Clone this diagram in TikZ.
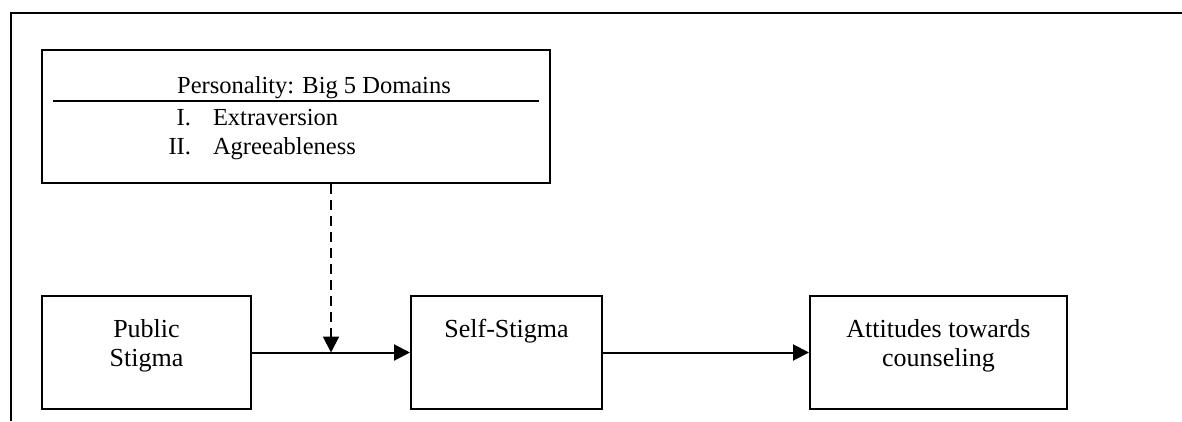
\documentclass[tikz,border=0pt]{standalone}
\usepackage{fontspec}
\setmainfont{Liberation Serif}
\usetikzlibrary{arrows.meta}
\begin{document}
\begin{tikzpicture}[x=1pt,y=-1pt,
  line width=2pt,
  box/.style={draw=black, line width=2pt, minimum width=#1, inner sep=0pt, minimum height=113pt},
  txt/.style={anchor=base, inner sep=0pt, font=\fontsize{24.5}{29}\selectfont},
  btxt/.style={anchor=base, inner sep=0pt, font=\fontsize{26}{30}\selectfont},
  arr/.style={-{Triangle[length=16pt,width=16pt]}, line width=2pt},
  dsh/.style={dash pattern=on 10pt off 6pt}]
\useasboundingbox (0,0) rectangle (1182,421);
% frame
\coordinate (fTR) at (1182,12.5);
\coordinate (fTL) at (11,12.5);
\coordinate (fBL) at (11,421);
\draw (fTR) -- (fTL) -- (fBL);
% top box
\node[draw=black, line width=2pt, minimum width=508pt, minimum height=133pt, inner sep=0pt] (pers) at (296,116.5) {};
\coordinate (ruleL) at (53,100.5);
\coordinate (ruleR) at (539,100.5);
\draw (ruleL) -- (ruleR);
\node[txt] (ptitle) at (314,93) {Personality: Big 5 Domains};
\node[txt, anchor=base east] (n1) at (192,125) {I.};
\node[txt, anchor=base west] (d1) at (212,125) {Extraversion};
\node[txt, anchor=base east] (n2) at (192,154) {II.};
\node[txt, anchor=base west] (d2) at (212,154) {Agreeableness};
% bottom boxes
\node[box=209pt] (pub) at (146.5,352.5) {};
\node[box=191pt] (self) at (506.5,352.5) {};
\node[box=257pt] (att) at (938.5,352.5) {};
\node[btxt] (pub1) at (146.5,337.5) {Public};
\node[btxt] (pub2) at (146.5,366) {Stigma};
\node[btxt] (self1) at (506.5,337.5) {Self-Stigma};
\node[btxt] (att1) at (938.5,337.5) {Attitudes towards};
\node[btxt] (att2) at (938.5,366) {counseling};
% arrows
\coordinate (mid) at (331,352.5);
\draw[arr] (pub.east) -- (self.west);
\draw[arr] (self.east) -- (att.west);
\draw[arr, dsh] (pers.south -| mid) -- (mid);
\end{tikzpicture}
\end{document}
